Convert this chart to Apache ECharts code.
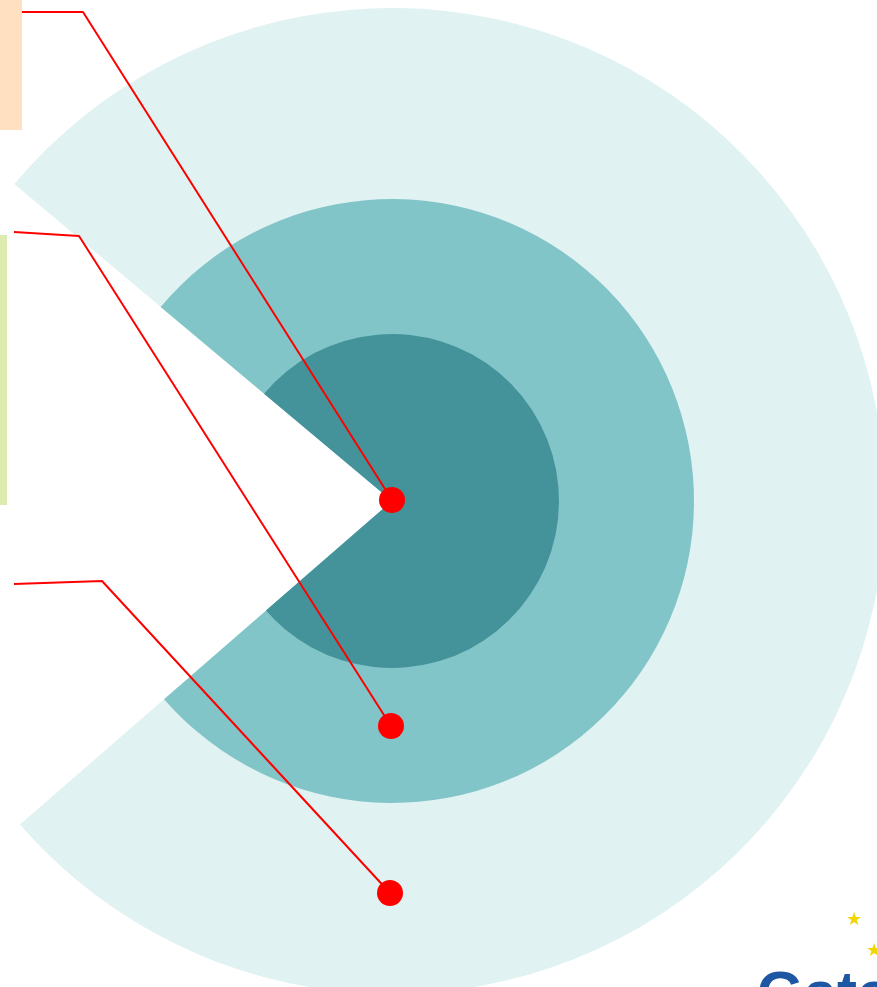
<!DOCTYPE html>
<html>
<head>
<meta charset="utf-8">
<script src="https://cdn.jsdelivr.net/npm/echarts@6/dist/echarts.min.js"></script>
<style>
  html, body { margin: 0; padding: 0; background: #fff; }
  #container { width: 877px; height: 987px; }
</style>
</head>
<body>
<div id="container"></div>
<script>
// rings, outer to inner
var rings = ['outer', 'middle', 'inner']
var ringRadius = [493, 302, 167]
var ringColors = ['#e0f2f1', '#82c5c9', '#44939a']
// opening of the pac-man (degrees): filled part and gap
var filledDeg = 279
var gapDeg = 81

// callouts: [start, elbow, dot] in pixel space of the picture
var callout1 = [[22, 12], [83, 12], [392, 500]]
var callout2 = [[14, 232], [79, 236], [391, 726]]
var callout3 = [[14, 584], [102, 581], [390, 893]]

var center = [392, 501]

let divEle = document.getElementById('container')
let instance = echarts.init(divEle)

var pieSeries = rings.map(function (name, i) {
  return {
    type: 'pie',
    name: name,
    center: center,
    radius: [0, ringRadius[i]],
    startAngle: 140,
    clockwise: true,
    silent: true,
    label: { show: false },
    labelLine: { show: false },
    z: i + 1,
    data: [
      { value: filledDeg, itemStyle: { color: ringColors[i] } },
      { value: gapDeg, itemStyle: { color: 'rgba(0,0,0,0)' } }
    ]
  }
})

function calloutSeries(pts) {
  return {
    type: 'line',
    silent: true,
    z: 10,
    lineStyle: { color: '#ff0000', width: 2 },
    symbol: 'circle',
    symbolSize: function (v, p) { return p.dataIndex === pts.length - 1 ? 26 : 0 },
    itemStyle: { color: '#ff0000' },
    data: pts
  }
}

instance.setOption({
  animation: false,
  grid: { left: 0, right: 0, top: 0, bottom: 0 },
  xAxis: { type: 'value', min: 0, max: 877, show: false },
  yAxis: { type: 'value', min: 0, max: 987, inverse: true, show: false },
  series: pieSeries.concat([
    calloutSeries(callout1),
    calloutSeries(callout2),
    calloutSeries(callout3)
  ]),
  graphic: [
    { type: 'rect', left: 0, top: 0, shape: { width: 22, height: 130 }, style: { fill: '#ffe0c1' } },
    { type: 'rect', left: 0, top: 235, shape: { width: 7, height: 270 }, style: { fill: '#ddebb0' } },
    { type: 'text', left: 757, top: 966, style: { text: 'Gateway', fill: '#1d56a3', font: 'bold 60px "Liberation Sans", Arial, sans-serif' } },
    { type: 'text', left: 846, top: 911, style: { text: '★', fill: '#f2d600', font: '18px "DejaVu Sans"' } },
    { type: 'text', left: 866, top: 942, style: { text: '★', fill: '#f2d600', font: '18px "DejaVu Sans"' } }
  ]
})
</script>
</body>
</html>
